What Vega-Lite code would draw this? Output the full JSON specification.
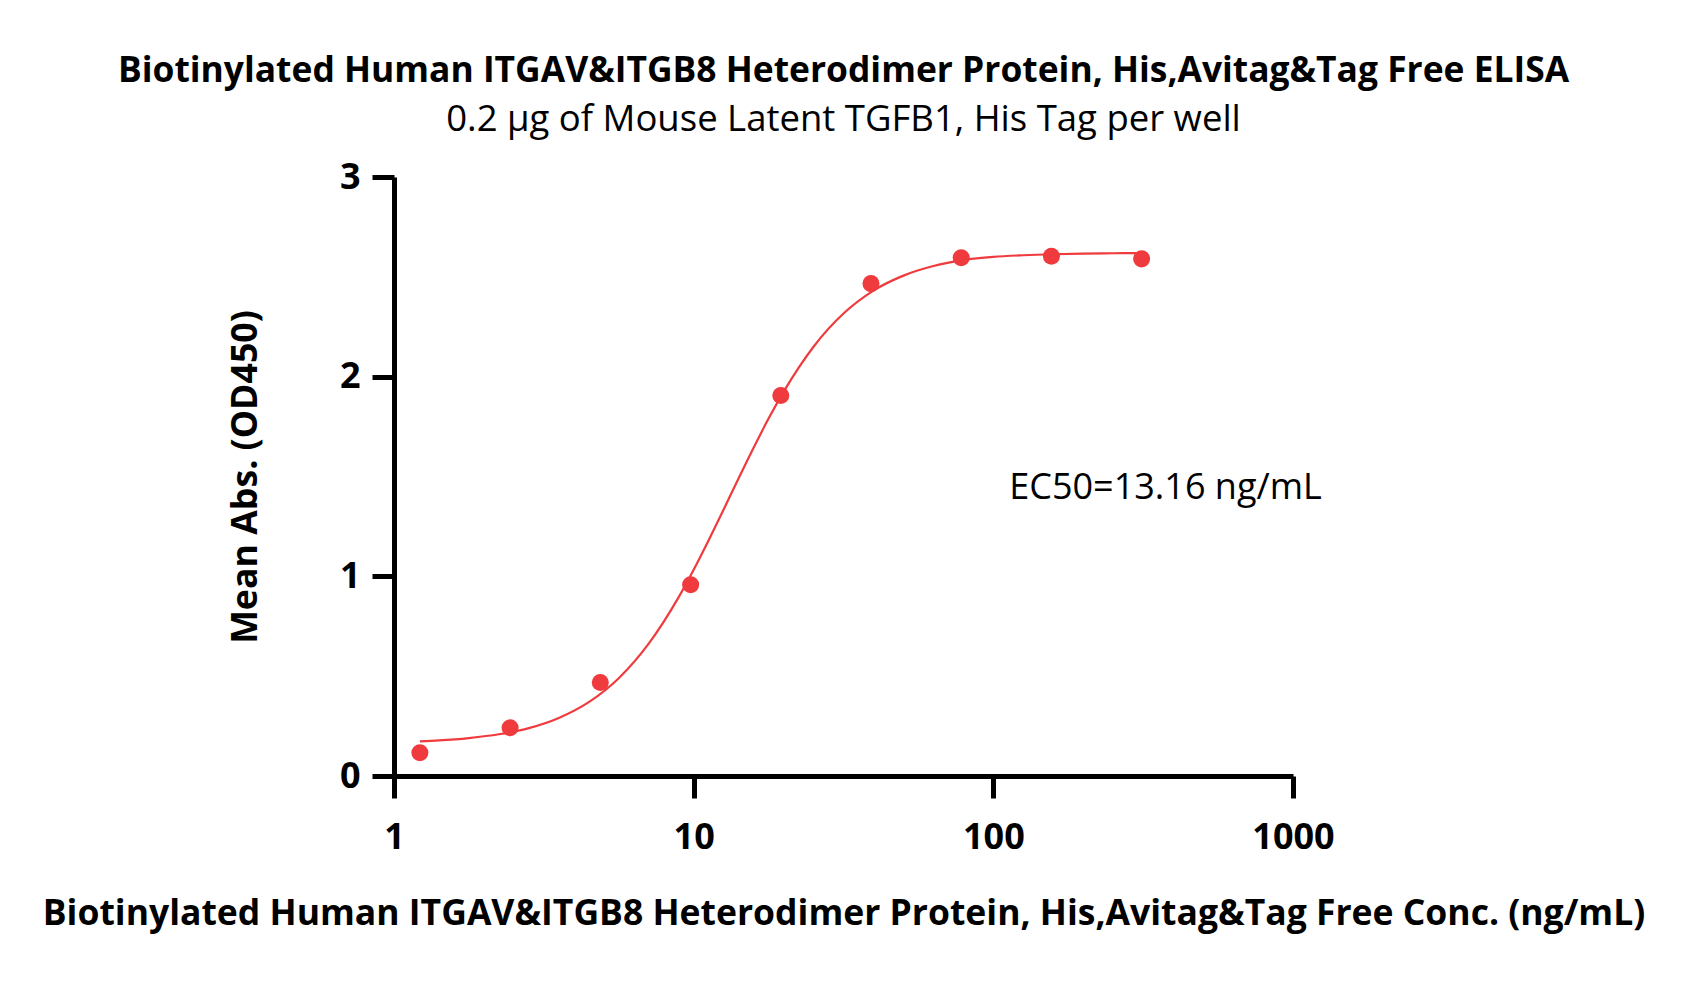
{
  "$schema": "https://vega.github.io/schema/vega-lite/v6.json",
  "width": 899,
  "height": 599,
  "autosize": {"type": "none"},
  "padding": {"left": 394, "top": 177, "right": 393, "bottom": 205},
  "background": "white",
  "config": {
    "view": {"stroke": null},
    "font": "Open Sans, sans-serif"
  },
  "title": {
    "text": "Biotinylated Human ITGAV&ITGB8 Heterodimer Protein, His,Avitag&Tag Free ELISA",
    "subtitle": "0.2 µg of Mouse Latent TGFB1, His Tag per well",
    "anchor": "middle",
    "frame": "group",
    "font": "Open Sans, sans-serif",
    "fontSize": 35.4,
    "fontWeight": "bold",
    "color": "black",
    "subtitleFont": "Open Sans, sans-serif",
    "subtitleFontSize": 36.5,
    "subtitleFontWeight": "normal",
    "subtitleColor": "black",
    "subtitlePadding": 12,
    "offset": 21
  },
  "datasets": {
    "points": [
      {"conc": 1.22, "abs": 0.116},
      {"conc": 2.44, "abs": 0.242},
      {"conc": 4.88, "abs": 0.468},
      {"conc": 9.77, "abs": 0.958},
      {"conc": 19.53, "abs": 1.906},
      {"conc": 39.06, "abs": 2.466},
      {"conc": 78.13, "abs": 2.596},
      {"conc": 156.25, "abs": 2.603},
      {"conc": 312.5, "abs": 2.59}
    ],
    "curve": [
      {"conc": 1.22, "abs": 0.173},
      {"conc": 1.413, "abs": 0.178},
      {"conc": 1.778, "abs": 0.19},
      {"conc": 2.239, "abs": 0.209},
      {"conc": 2.818, "abs": 0.24},
      {"conc": 3.548, "abs": 0.291},
      {"conc": 4.467, "abs": 0.37},
      {"conc": 5.623, "abs": 0.49},
      {"conc": 7.079, "abs": 0.663},
      {"conc": 8.913, "abs": 0.896},
      {"conc": 10.0, "abs": 1.033},
      {"conc": 11.22, "abs": 1.181},
      {"conc": 12.59, "abs": 1.335},
      {"conc": 14.13, "abs": 1.491},
      {"conc": 15.85, "abs": 1.644},
      {"conc": 17.78, "abs": 1.79},
      {"conc": 19.95, "abs": 1.924},
      {"conc": 22.39, "abs": 2.044},
      {"conc": 25.12, "abs": 2.15},
      {"conc": 31.62, "abs": 2.316},
      {"conc": 39.81, "abs": 2.431},
      {"conc": 50.12, "abs": 2.506},
      {"conc": 63.1, "abs": 2.554},
      {"conc": 79.43, "abs": 2.584},
      {"conc": 100.0, "abs": 2.6},
      {"conc": 125.9, "abs": 2.608},
      {"conc": 158.5, "abs": 2.613},
      {"conc": 199.5, "abs": 2.616},
      {"conc": 251.2, "abs": 2.618},
      {"conc": 312.5, "abs": 2.619}
    ],
    "note": [
      {"conc": 113, "abs": 1.44, "label": "EC50=13.16 ng/mL"}
    ]
  },
  "encoding": {
    "x": {
      "field": "conc",
      "type": "quantitative",
      "scale": {"type": "log", "domain": [1, 1000], "nice": false},
      "axis": {
        "title": "Biotinylated Human ITGAV&ITGB8 Heterodimer Protein, His,Avitag&Tag Free Conc. (ng/mL)",
        "values": [1, 10, 100, 1000],
        "format": "d",
        "grid": false,
        "labelFlush": false,
        "labelOverlap": false,
        "domainColor": "black",
        "domainWidth": 5,
        "tickColor": "black",
        "tickWidth": 5,
        "tickSize": 22,
        "labelFontSize": 36,
        "labelFontWeight": "bold",
        "labelColor": "black",
        "labelPadding": 22,
        "labelFont": "Open Sans, sans-serif",
        "titleFont": "Open Sans, sans-serif",
        "titleFontSize": 35.5,
        "titleFontWeight": "bold",
        "titleColor": "black",
        "titlePadding": 41
      }
    },
    "y": {
      "field": "abs",
      "type": "quantitative",
      "scale": {"domain": [0, 3], "nice": false},
      "axis": {
        "title": "Mean Abs. (OD450)",
        "values": [0, 1, 2, 3],
        "grid": false,
        "labelFlush": false,
        "domainColor": "black",
        "domainWidth": 5,
        "tickColor": "black",
        "tickWidth": 5,
        "tickSize": 22,
        "labelFontSize": 36,
        "labelFontWeight": "bold",
        "labelColor": "black",
        "labelPadding": 12,
        "labelFont": "Open Sans, sans-serif",
        "titleFont": "Open Sans, sans-serif",
        "titleFontSize": 35.7,
        "titleFontWeight": "bold",
        "titleColor": "black",
        "titlePadding": 76
      }
    }
  },
  "layer": [
    {
      "data": {"name": "curve"},
      "mark": {"type": "line", "color": "#EF3B3E", "strokeWidth": 2.2, "interpolate": "monotone"}
    },
    {
      "data": {"name": "points"},
      "mark": {"type": "point", "filled": true, "shape": "circle", "size": 290, "color": "#EF3B3E", "opacity": 1}
    },
    {
      "data": {"name": "note"},
      "mark": {"type": "text", "align": "left", "baseline": "middle", "fontSize": 36, "color": "black", "font": "Open Sans, sans-serif"},
      "encoding": {"text": {"field": "label"}}
    }
  ]
}
